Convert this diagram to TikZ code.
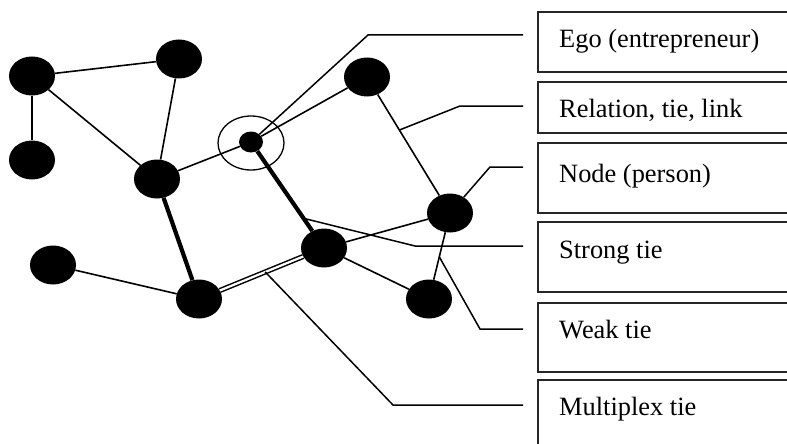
\documentclass[tikz,border=0pt]{standalone}
\usepackage{fontspec}
\setmainfont{Liberation Serif}
\usetikzlibrary{shapes.geometric,calc}
\begin{document}
\begin{tikzpicture}[x=1pt,y=-1pt,
  person/.style={ellipse, fill=black, inner sep=0pt, minimum width=46pt, minimum height=39pt},
  egonode/.style={ellipse, fill=black, inner sep=0pt, minimum width=24pt, minimum height=21pt},
  ring/.style={ellipse, draw=black, line width=1.3pt, inner sep=0pt, minimum width=66pt, minimum height=54pt},
  tie/.style={line width=1.6pt},
  strongtie/.style={line width=4.2pt},
  multitie/.style={double, double distance=2.2pt, line width=1.5pt},
  leader/.style={line width=1.5pt},
  labelbox/.style={draw=black!85, line width=1.5pt},
  labeltext/.style={anchor=base west, inner sep=0pt, font=\fontsize{26.4}{30}\selectfont}]
\useasboundingbox (0,0) rectangle (787,444);
\clip (0,0) rectangle (787,444);
% persons
\node[person] (A) at (32,76) {};
\node[person] (B) at (179,59) {};
\node[person] (C) at (32,160) {};
\node[person] (D) at (157,179) {};
\node[person] (E) at (367,77) {};
\node[person] (F) at (450,213) {};
\node[person] (G) at (324,248) {};
\node[person] (H) at (429,299) {};
\node[person] (I) at (53,265) {};
\node[person] (J) at (199,299) {};
\node[egonode] (ego) at (251,142) {};
\node[ring] (egoring) at (251,143) {};
% ties
\draw[tie] (A) -- (B);
\draw[tie] (A) -- (C);
\draw[tie] (A) -- (D);
\draw[tie] (B) -- (D);
\draw[tie] (D) -- (ego);
\draw[tie] (ego) -- (E);
\draw[tie] (E) -- (F);
\draw[tie] (G) -- (F);
\draw[tie] (G) -- (H);
\draw[tie] (F) -- (H);
\draw[tie] (I) -- (J);
\draw[strongtie] (D) -- (J);
\draw[strongtie] (ego) -- (G);
\draw[multitie] (J) -- (G);
% leader end points
\coordinate (k1) at (368,35);  \coordinate (e1) at (523,35);
\coordinate (k2) at (460,106); \coordinate (e2) at (523,106);
\coordinate (k3) at (490,167); \coordinate (e3) at (523,167);
\coordinate (k4) at (415,246); \coordinate (e4) at (523,246);
\coordinate (k5) at (480,329); \coordinate (e5) at (523,329);
\coordinate (k6) at (393,405); \coordinate (e6) at (523,405);
% leaders
\draw[leader] (ego) -- (k1) -- (e1);
\draw[leader] ($(E)!0.39!(F)$) -- (k2) -- (e2);
\draw[leader] (F) -- (k3) -- (e3);
\draw[leader] ($(ego)!0.72!(G)$) -- (k4) -- (e4);
\draw[leader] ($(F)!0.51!(H)$) -- (k5) -- (e5);
\draw[leader] ($(J)!0.53!(G)$) -- (k6) -- (e6);
% label boxes
\draw[labelbox] (538,12) rectangle (800,72);
\draw[labelbox] (538,82) rectangle (800,133);
\draw[labelbox] (538,143) rectangle (800,213);
\draw[labelbox] (538,222) rectangle (800,292);
\draw[labelbox] (538,303) rectangle (800,372);
\draw[labelbox] (538,380) rectangle (800,460);
\node[labeltext] (t1) at (559,48) {Ego (entrepreneur)};
\node[labeltext] (t2) at (559,117) {Relation, tie, link};
\node[labeltext] (t3) at (559,182) {Node (person)};
\node[labeltext] (t4) at (559,258) {Strong tie};
\node[labeltext] (t5) at (559,338) {Weak tie};
\node[labeltext] (t6) at (559,415) {Multiplex tie};
\end{tikzpicture}
\end{document}
